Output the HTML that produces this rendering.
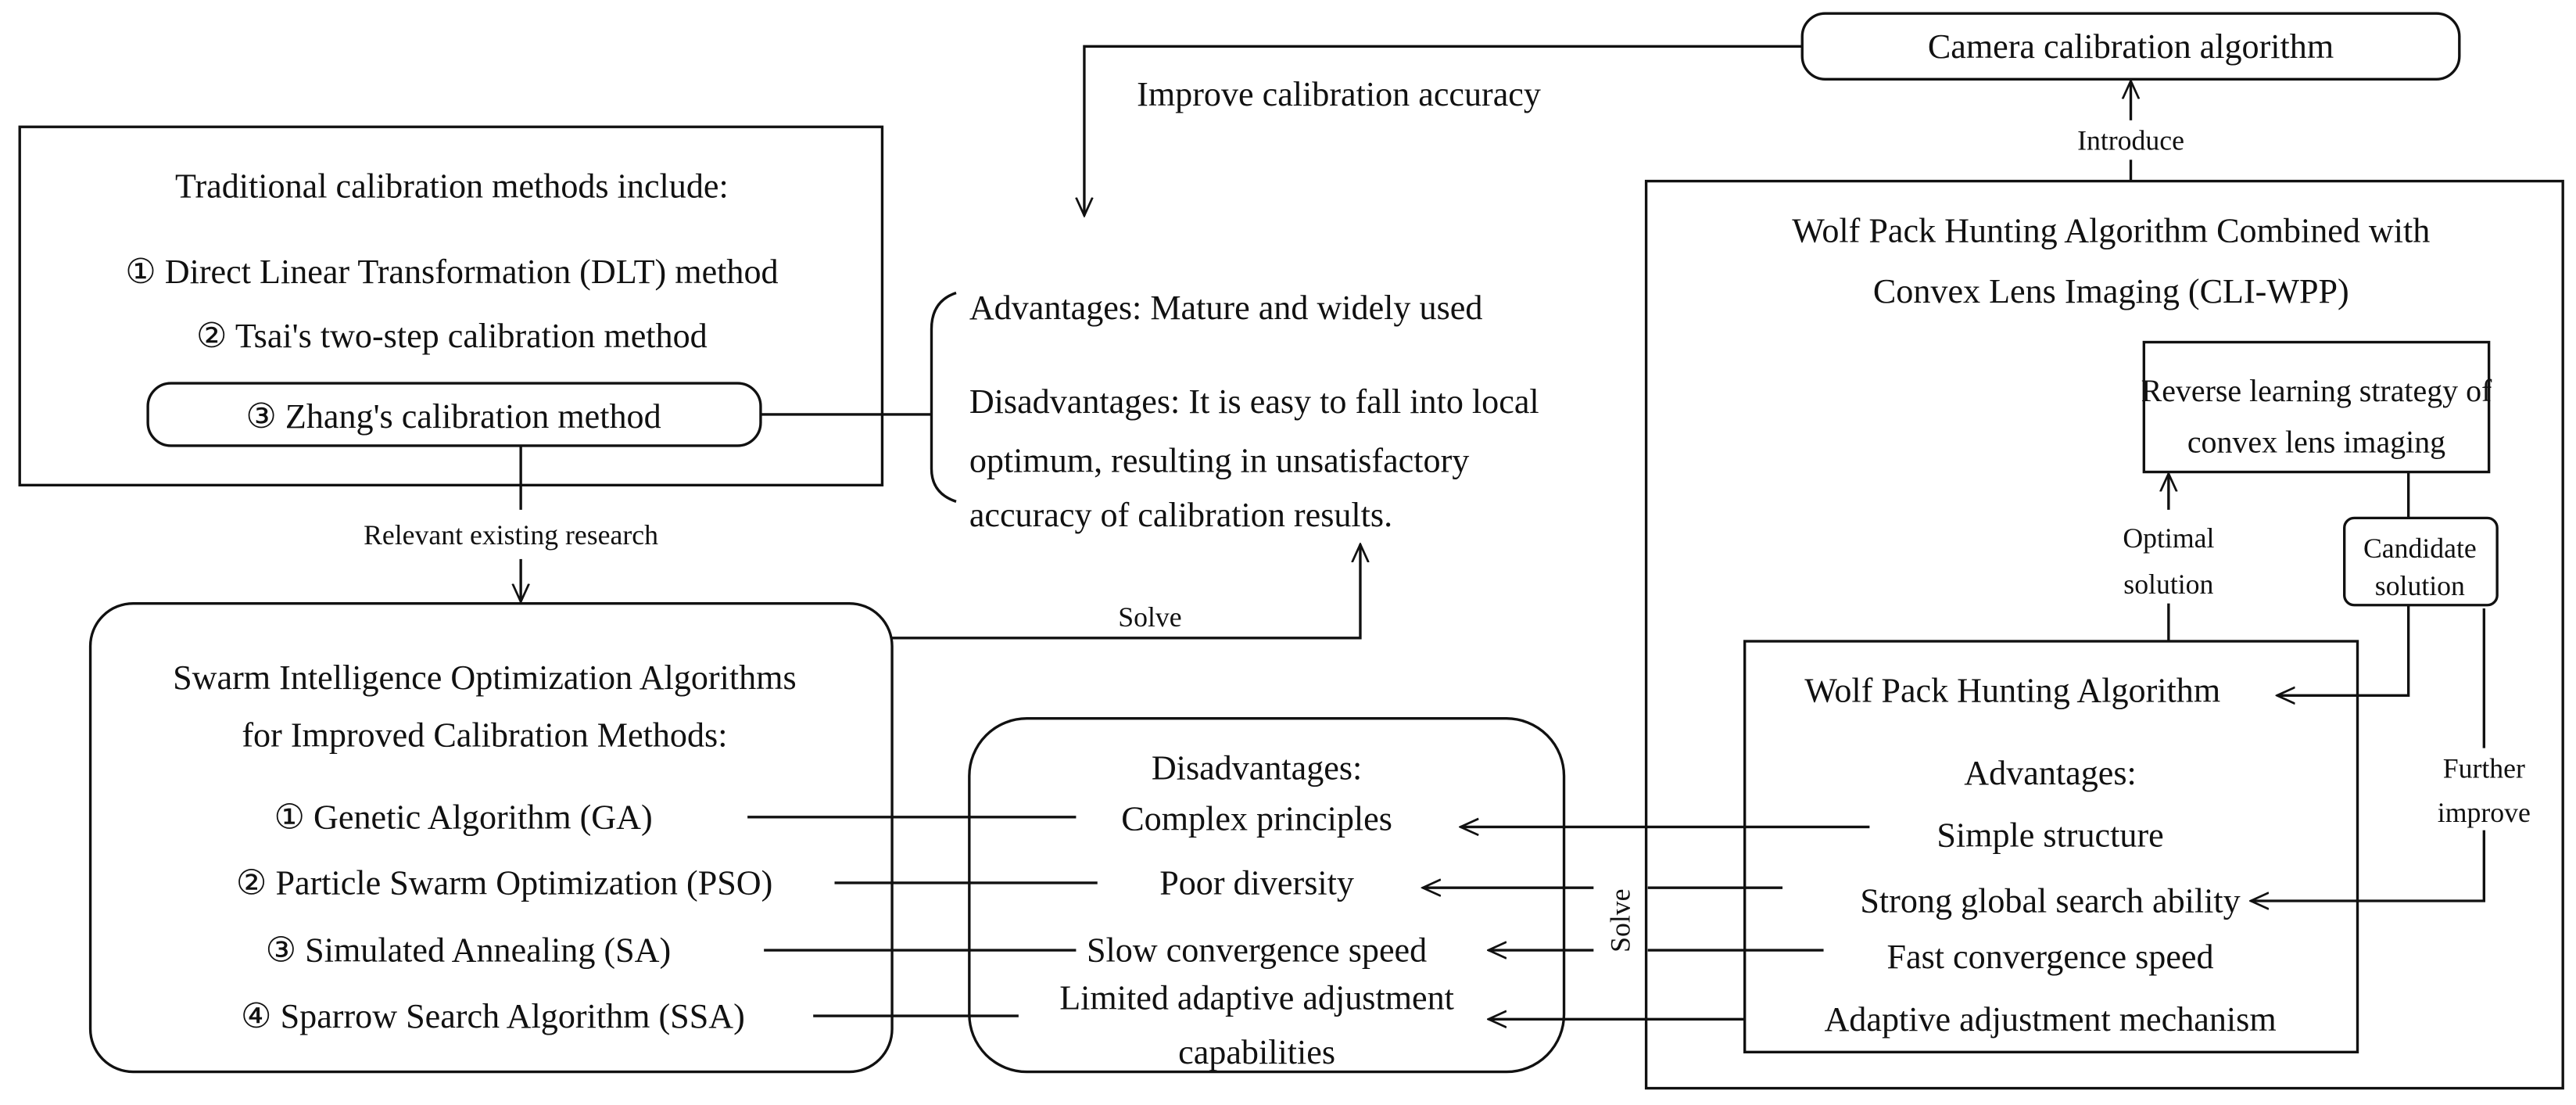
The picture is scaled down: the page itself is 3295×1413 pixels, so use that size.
<!DOCTYPE html>
<html><head><meta charset="utf-8"><style>
html,body{margin:0;padding:0;background:#fff;}
svg{display:block;}
text{font-family:"Liberation Serif","DejaVu Serif",serif;font-size:21px;fill:#111;}
.s{font-size:17px;}
.r{font-size:19px;}
</style></head><body>
<svg width="3295" height="1413" viewBox="0 0 1568 672" xmlns="http://www.w3.org/2000/svg">
<defs>
<marker id="a" viewBox="0 0 12 12" refX="11" refY="6" markerWidth="12" markerHeight="12" markerUnits="userSpaceOnUse" orient="auto">
<path d="M0,1 L11,6 L0,11" fill="none" stroke="#111" stroke-width="1.3"/>
</marker>
</defs>
<g fill="none" stroke="#111" stroke-width="1.6">
<rect x="1097" y="8" width="400" height="40" rx="14"/>
<line x1="1297" y1="73" x2="1297" y2="49" marker-end="url(#a)"/>
<line x1="1297" y1="97" x2="1297" y2="110"/>
<polyline points="1097,28 660,28 660,131" marker-end="url(#a)"/>
<rect x="12" y="77" width="525" height="218"/>
<rect x="90" y="233" width="373" height="38" rx="14"/>
<line x1="463" y1="252" x2="567" y2="252"/>
<path d="M582,178 Q567,183 567,200 L567,285 Q567,300 582,305"/>
<line x1="317" y1="271" x2="317" y2="310"/>
<line x1="317" y1="340" x2="317" y2="366" marker-end="url(#a)"/>
<rect x="55" y="367" width="488" height="285" rx="26"/>
<polyline points="543,388 828,388 828,331" marker-end="url(#a)"/>
<rect x="590" y="437" width="362" height="215" rx="35"/>
<line x1="455" y1="497" x2="655" y2="497"/>
<line x1="508" y1="537" x2="668" y2="537"/>
<line x1="465" y1="578" x2="655" y2="578"/>
<line x1="495" y1="618" x2="620" y2="618"/>
<rect x="1002" y="110" width="558" height="552"/>
<rect x="1305" y="208" width="210" height="79"/>
<rect x="1427" y="315" width="93" height="53" rx="6"/>
<line x1="1466" y1="287" x2="1466" y2="315"/>
<polyline points="1466,368 1466,423 1386,423" marker-end="url(#a)"/>
<line x1="1320" y1="390" x2="1320" y2="367"/>
<line x1="1320" y1="310" x2="1320" y2="288" marker-end="url(#a)"/>
<rect x="1062" y="390" width="373" height="250"/>
<line x1="1512" y1="370" x2="1512" y2="455"/>
<polyline points="1512,505 1512,548 1370,548" marker-end="url(#a)"/>
<line x1="1138" y1="503" x2="889" y2="503" marker-end="url(#a)"/>
<line x1="1085" y1="540" x2="1003" y2="540"/>
<line x1="970" y1="540" x2="866" y2="540" marker-end="url(#a)"/>
<line x1="1110" y1="578" x2="1003" y2="578"/>
<line x1="970" y1="578" x2="906" y2="578" marker-end="url(#a)"/>
<line x1="1062" y1="620" x2="906" y2="620" marker-end="url(#a)"/>
</g>
<g text-anchor="middle">
<text x="1297" y="35">Camera calibration algorithm</text>
<text x="1297" y="91" class="s">Introduce</text>
<text x="275" y="120">Traditional calibration methods include:</text>
<text x="275" y="172">① Direct Linear Transformation (DLT) method</text>
<text x="275" y="211">② Tsai's two-step calibration method</text>
<text x="276" y="260">③ Zhang's calibration method</text>
<text x="311" y="331" class="s">Relevant existing research</text>
<text x="700" y="381" class="s">Solve</text>
<text x="295" y="419">Swarm Intelligence Optimization Algorithms</text>
<text x="295" y="454">for Improved Calibration Methods:</text>
<text x="282" y="504">① Genetic Algorithm (GA)</text>
<text x="307" y="544">② Particle Swarm Optimization (PSO)</text>
<text x="285" y="585">③ Simulated Annealing (SA)</text>
<text x="300" y="625">④ Sparrow Search Algorithm (SSA)</text>
<text x="765" y="474">Disadvantages:</text>
<text x="765" y="505">Complex principles</text>
<text x="765" y="544">Poor diversity</text>
<text x="765" y="585">Slow convergence speed</text>
<text x="765" y="614">Limited adaptive adjustment</text>
<text x="765" y="647">capabilities</text>
<text x="1285" y="147">Wolf Pack Hunting Algorithm Combined with</text>
<text x="1285" y="184">Convex Lens Imaging (CLI-WPP)</text>
<text x="1410" y="244" class="r">Reverse learning strategy of</text>
<text x="1410" y="275" class="r">convex lens imaging</text>
<text x="1473" y="339" class="s">Candidate</text>
<text x="1473" y="362" class="s">solution</text>
<text x="1320" y="333" class="s">Optimal</text>
<text x="1320" y="361" class="s">solution</text>
<text x="1512" y="473" class="s">Further</text>
<text x="1512" y="500" class="s">improve</text>
<text x="1225" y="427">Wolf Pack Hunting Algorithm</text>
<text x="1248" y="477">Advantages:</text>
<text x="1248" y="515">Simple structure</text>
<text x="1248" y="555">Strong global search ability</text>
<text x="1248" y="589">Fast convergence speed</text>
<text x="1248" y="627">Adaptive adjustment mechanism</text>
<text transform="translate(992,560) rotate(-90)" class="s">Solve</text>
</g>
<text x="692" y="64">Improve calibration accuracy</text>
<text x="590" y="194">Advantages: Mature and widely used</text>
<text x="590" y="251">Disadvantages: It is easy to fall into local</text>
<text x="590" y="287">optimum, resulting in unsatisfactory</text>
<text x="590" y="320">accuracy of calibration results.</text>
</svg>
</body></html>
